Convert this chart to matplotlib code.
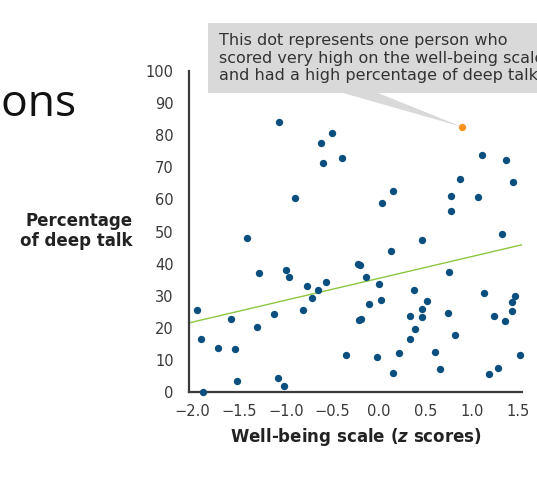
import matplotlib
matplotlib.use("Agg")
import matplotlib.pyplot as plt
from matplotlib.patches import Rectangle, Polygon

# well-being z scores and percentage of deep talk
wellbeing = [-1.075, -0.50, -0.62, -0.60, -0.40, -0.90, -1.42, 1.115, 1.37, 0.874,
             1.44, 0.154, 0.03, 0.774, 1.065, 0.774, 1.32, 0.46, -1.284, -1.0,
             -0.965, -0.77, -0.57, -0.656, -0.72, -0.81, -1.953, -1.584, -1.13, -1.31,
             -1.91, -1.73, -1.548, -0.347, -1.527, -1.086, -1.02, -1.89, -0.22, -0.20,
             0.136, -0.14, 0.0, 0.756, 0.376, 1.136, -0.10, 0.025, 0.516, 0.466,
             0.34, 0.47, 0.745, 1.466, 1.434, 1.43, 1.24, 1.36, -0.21, -0.19,
             0.395, 0.337, 0.815, -0.015, 0.215, 0.6, 1.52, 0.158, 0.656, 1.19,
             1.28]
deep_talk = [84.0, 80.6, 77.5, 71.4, 72.8, 60.3, 48.1, 73.7, 72.2, 66.4,
             65.3, 62.6, 58.9, 61.0, 60.8, 56.4, 49.1, 47.5, 37.1, 37.9,
             35.8, 32.9, 34.4, 31.7, 29.4, 25.6, 25.4, 22.8, 24.3, 20.3,
             16.6, 13.7, 13.5, 11.4, 3.5, 4.5, 1.9, 0.0, 39.8, 39.7,
             43.8, 35.8, 33.6, 37.5, 31.9, 30.9, 27.4, 28.8, 28.5, 26.0,
             23.7, 23.3, 24.5, 29.8, 28.0, 25.2, 23.7, 22.1, 22.5, 22.6,
             19.5, 16.5, 17.7, 10.8, 12.0, 12.6, 11.5, 6.0, 7.2, 5.7,
             7.5]

# the highlighted person
high_x = [0.896]
high_y = [82.6]

# fitted line
fit_intercept = 35.4
fit_slope = 6.8

xticks = [-2.0, -1.5, -1.0, -0.5, 0.0, 0.5, 1.0, 1.5]
xtick_labels = ["\u22122.0", "\u22121.5", "\u22121.0", "\u22120.5", "0.0", "0.5", "1.0", "1.5"]
yticks = list(range(0, 101, 10))

note = ("This dot represents one person who\n"
        "scored very high on the well-being scale\n"
        "and had a high percentage of deep talk")

W, H = 537, 483
fig = plt.figure(figsize=(W / 100, H / 100), dpi=100)
ax = fig.add_axes([189 / W, 1 - 392 / H, (522 - 189) / W, (392 - 71) / H])

xmin, xmax = -2.04, 1.54
ax.set_xlim(xmin, xmax)
ax.set_ylim(0, 100)

ax.plot([xmin, xmax], [fit_intercept + fit_slope * xmin, fit_intercept + fit_slope * xmax],
        color="#8cc63f", linewidth=1.0, zorder=2)
ax.scatter(wellbeing, deep_talk, s=28, color="#0b4f7f", linewidths=0, zorder=3, clip_on=False)
ax.scatter(high_x, high_y, s=28, color="#f7931e", linewidths=0, zorder=4, clip_on=False)

for side in ["top", "right"]:
    ax.spines[side].set_visible(False)
for side in ["left", "bottom"]:
    ax.spines[side].set_color("#3a3a3a")
    ax.spines[side].set_linewidth(1.6)

ax.set_xticks(xticks)
ax.set_xticklabels(xtick_labels)
ax.set_yticks(yticks)
ax.tick_params(length=0, labelsize=10.5, labelcolor="#3a3a3a")
ax.tick_params(axis="y", pad=11)
ax.tick_params(axis="x", pad=9)

ax.set_xlabel(r"Well-being scale ($\mathbfit{z}$ scores)", fontsize=12, fontweight="bold",
              color="#222222", labelpad=5)

fig.text(133 / W, 1 - 231 / H, "Percentage\nof deep talk", ha="right", va="center",
         fontsize=12, fontweight="bold", color="#222222", linespacing=1.15)

# callout box with pointer to the orange dot
fig.patches.append(Rectangle((208 / W, 1 - 93 / H), 340 / W, 70 / H, transform=fig.transFigure,
                             facecolor="#d9d9d9", edgecolor="none", zorder=1))
tip = fig.transFigure.inverted().transform(ax.transData.transform((high_x[0], high_y[0])))
fig.patches.append(Polygon([(343 / W, 1 - 93 / H), (378 / W, 1 - 93 / H), (tip[0], tip[1])],
                           closed=True, transform=fig.transFigure,
                           facecolor="#d9d9d9", edgecolor="none", zorder=1))
fig.text(219 / W, 1 - 58 / H, note, ha="left", va="center", fontsize=11.5,
         color="#333333", linespacing=1.22)

# slide title, cut off by the left edge
fig.text(76 / W, 1 - 105 / H, "Correlations", ha="right", va="center",
         fontsize=32, family="Open Sans", color="#111111")

fig.savefig("out.png", dpi=100)
